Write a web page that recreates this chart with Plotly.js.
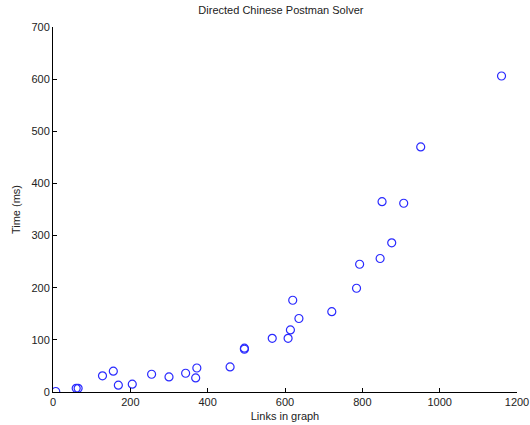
<!DOCTYPE html>
<html><head><meta charset="utf-8">
<script src="https://cdn.plot.ly/plotly-3.0.1.min.js"></script>
<style>html,body{margin:0;padding:0;background:#fff;}#chart{width:530px;height:425px;}</style>
</head><body><div id="chart"></div>
<script>
var links = [7, 60, 65, 128, 156, 169, 205, 255, 300, 343, 372, 369, 458, 495, 495, 567, 608, 614, 620, 636, 721, 785, 793, 846, 851, 876, 907, 951, 1160];
var timeMs = [1, 7, 7, 31, 40, 13, 15, 34, 29, 36, 46, 27, 48, 84, 82, 103, 103, 119, 176, 141, 154, 199, 245, 256, 365, 286, 362, 470, 606];
var xTicks = [0, 200, 400, 600, 800, 1000, 1200];
var yTicks = [0, 100, 200, 300, 400, 500, 600, 700];

var font = {family: 'Liberation Sans, Arial, sans-serif', size: 11, color: '#222'};
Plotly.newPlot('chart', [{
  x: links, y: timeMs, type: 'scatter', mode: 'markers',
  marker: {symbol: 'circle-open', size: 8, color: '#2a2aff', line: {width: 1.2, color: '#2a2aff'}}
}], {
  width: 530, height: 425,
  margin: {l: 53, r: 13, t: 27, b: 33},
  paper_bgcolor: '#fff', plot_bgcolor: '#fff',
  showlegend: false,
  font: font,
  title: {text: 'Directed Chinese Postman Solver', font: {family: font.family, size: 11, color: '#222'}, x: 0.53, xanchor: 'center', y: 0.975, yanchor: 'middle'},
  xaxis: {range: [0, 1200], tickvals: xTicks, ticktext: xTicks.map(String), showgrid: false, zeroline: false,
    showline: true, linecolor: '#000', linewidth: 1, ticks: 'inside', ticklen: 4, tickcolor: '#000',
    tickfont: font, title: {text: 'Links in graph', font: font, standoff: 5}},
  yaxis: {range: [0, 700], tickvals: yTicks, ticktext: yTicks.map(String), showgrid: false, zeroline: false,
    showline: true, linecolor: '#000', linewidth: 1, ticks: 'inside', ticklen: 4, tickcolor: '#000',
    tickfont: font, title: {text: 'Time (ms)', font: font, standoff: 8}}
}, {staticPlot: true});
</script></body></html>
